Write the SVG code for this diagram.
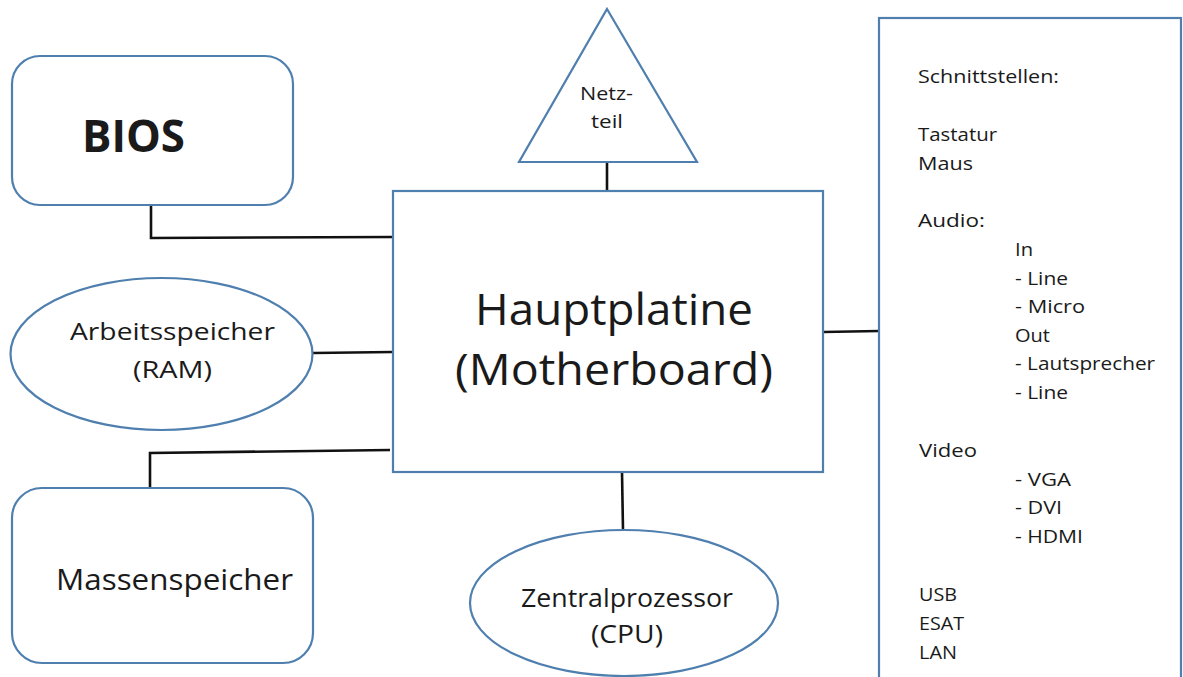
<svg xmlns="http://www.w3.org/2000/svg" width="1183" height="677" viewBox="0 0 1183 677">
<style>
.shape{fill:#fff;stroke:#4f7fae;stroke-width:2.2}
.conn{fill:none;stroke:#111;stroke-width:2.6}
text{font-family:"Open Sans",Lato,"Liberation Sans",sans-serif;fill:#1a1a1a}
.lst{font-size:18px}
</style>
<rect width="1183" height="677" fill="#fff"/>
<g id="connectors">
<polyline class="conn" points="151,205 151,238 393,237"/>
<line class="conn" x1="607" y1="162" x2="607" y2="191"/>
<line class="conn" x1="313" y1="353" x2="393" y2="352"/>
<polyline class="conn" points="150,488 150,453 390,450"/>
<line class="conn" x1="622" y1="472" x2="623" y2="530"/>
<line class="conn" x1="823" y1="332" x2="879" y2="331"/>
</g>
<g id="bios">
<rect class="shape" x="12" y="56" width="281" height="149" rx="28"/>
<text x="82" y="152" font-size="44" font-weight="bold" textLength="103" lengthAdjust="spacingAndGlyphs">BIOS</text>
</g>
<g id="netzteil">
<polygon class="shape" points="607,9 697,162 519,162"/>
<text x="580" y="100" font-size="19" textLength="53" lengthAdjust="spacingAndGlyphs">Netz-</text>
<text x="591" y="128" font-size="19" textLength="32" lengthAdjust="spacingAndGlyphs">teil</text>
</g>
<g id="motherboard">
<rect class="shape" x="393" y="191" width="430" height="281"/>
<text x="475" y="325" font-size="44" textLength="278" lengthAdjust="spacingAndGlyphs">Hauptplatine</text>
<text x="455" y="385" font-size="44" textLength="318" lengthAdjust="spacingAndGlyphs">(Motherboard)</text>
</g>
<g id="ram">
<ellipse class="shape" cx="161.5" cy="354" rx="151" ry="76"/>
<text x="70" y="340" font-size="24" textLength="205" lengthAdjust="spacingAndGlyphs">Arbeitsspeicher</text>
<text x="133" y="378" font-size="24" textLength="79" lengthAdjust="spacingAndGlyphs">(RAM)</text>
</g>
<g id="massenspeicher">
<rect class="shape" x="12" y="488" width="301" height="175" rx="30"/>
<text x="56" y="590" font-size="30" textLength="237" lengthAdjust="spacingAndGlyphs">Massenspeicher</text>
</g>
<g id="cpu">
<ellipse class="shape" cx="624" cy="603" rx="154" ry="73"/>
<text x="521" y="607" font-size="25" textLength="212" lengthAdjust="spacingAndGlyphs">Zentralprozessor</text>
<text x="591" y="643" font-size="25" textLength="72" lengthAdjust="spacingAndGlyphs">(CPU)</text>
</g>
<g id="schnittstellen">
<rect class="shape" x="879" y="18" width="302" height="680"/>
<g class="lst">
<text x="918" y="83" textLength="141" lengthAdjust="spacingAndGlyphs">Schnittstellen:</text>
<text x="918" y="141" textLength="79" lengthAdjust="spacingAndGlyphs">Tastatur</text>
<text x="918" y="170" textLength="55" lengthAdjust="spacingAndGlyphs">Maus</text>
<text x="918" y="227" textLength="67" lengthAdjust="spacingAndGlyphs">Audio:</text>
<text x="1015" y="256" textLength="18" lengthAdjust="spacingAndGlyphs">In</text>
<text x="1015" y="285" textLength="53" lengthAdjust="spacingAndGlyphs">- Line</text>
<text x="1015" y="313" textLength="70" lengthAdjust="spacingAndGlyphs">- Micro</text>
<text x="1015" y="342" textLength="35" lengthAdjust="spacingAndGlyphs">Out</text>
<text x="1015" y="370" textLength="140" lengthAdjust="spacingAndGlyphs">- Lautsprecher</text>
<text x="1015" y="399" textLength="53" lengthAdjust="spacingAndGlyphs">- Line</text>
<text x="919" y="457" textLength="58" lengthAdjust="spacingAndGlyphs">Video</text>
<text x="1015" y="486" textLength="56" lengthAdjust="spacingAndGlyphs">- VGA</text>
<text x="1015" y="514" textLength="47" lengthAdjust="spacingAndGlyphs">- DVI</text>
<text x="1015" y="543" textLength="68" lengthAdjust="spacingAndGlyphs">- HDMI</text>
<text x="919" y="601" textLength="38" lengthAdjust="spacingAndGlyphs">USB</text>
<text x="919" y="630" textLength="45" lengthAdjust="spacingAndGlyphs">ESAT</text>
<text x="919" y="659" textLength="38" lengthAdjust="spacingAndGlyphs">LAN</text>
</g>
</g>
</svg>
